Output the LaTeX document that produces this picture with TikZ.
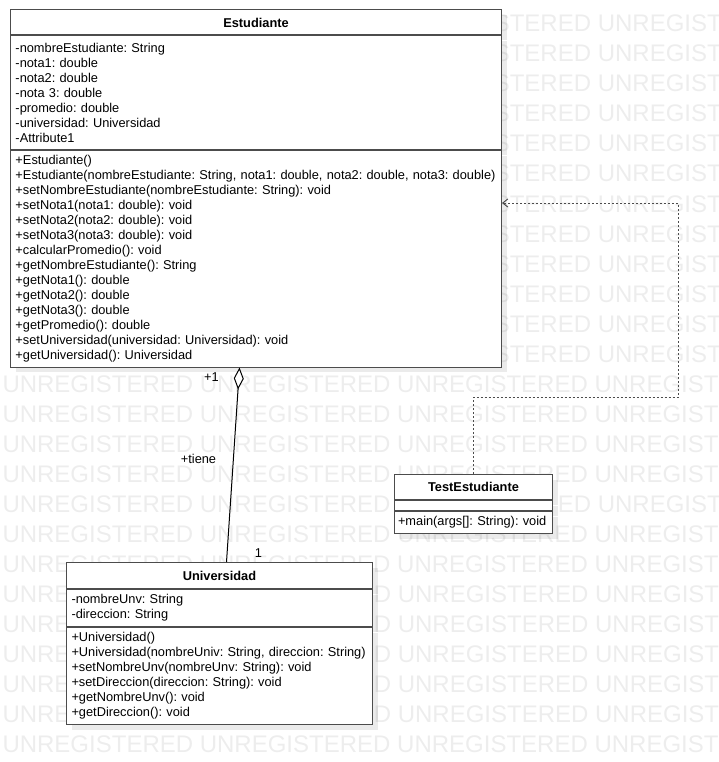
\documentclass[tikz,border=0pt]{standalone}
\usepackage{fontspec}
\setmainfont{Liberation Sans}
\usetikzlibrary{shapes, arrows.meta, positioning, shadows}
\frenchspacing

\begin{document}
\begin{tikzpicture}[x=1pt,y=-1pt,line width=1pt,
    font=\fontsize{12.8}{15}\selectfont,
    wmark/.style={text=black!7, font=\fontsize{24}{24}\selectfont, anchor=base west, inner sep=0pt},
    cls/.style={draw=black!70, fill=white, inner xsep=5pt, inner ysep=0pt,
        drop shadow={shadow xshift=5pt, shadow yshift=-5pt, fill=black, opacity=.08}},
    title/.style={cls, font=\fontsize{12.8}{15}\selectfont\bfseries, align=center},
    members/.style={cls, align=left},
    aggr/.style={draw=black, {Diamond[fill=white, length=22pt, width=10pt]}-},
    dep/.style={draw=black!70, dash pattern=on 2pt off 2pt, -{Straight Barb[length=5pt, width=8pt]}}]

\useasboundingbox (0,0) rectangle (719,762);

% watermark, only the parts that show
\foreach \r in {1,...,12}
    \node[wmark] (wma\r) at (493.3,30*\r+2) {STERED UNREGIST};
\foreach \r in {13,14,15,16,18,19,25}
    \node[wmark] (wmb\r) at (2,30*\r+2) {UNREGISTERED UNREGISTERED UNREGISTERED UNREGIST};
\node[wmark] (wmc1) at (2,512) {UNREGISTERED UNREGISTERED};
\node[wmark] (wmc2) at (557.3,512) {ED UNREGIST};
\foreach \r in {20,...,24}{
    \node[wmark] (wmd\r) at (2,30*\r+2) {UNRE};
    \node[wmark] (wme\r) at (373.3,30*\r+2) {D UNREGISTERED UNREGIST};
}

\node[title,
    anchor=north west,
    text width=481pt,
    minimum height=25pt] (est) at (10,9.5) {Estudiante};

\node[members,
    below=0pt of est,
    text width=481pt,
    minimum height=114pt] (estattr) {-nombreEstudiante: String\\-nota1: double\\-nota2: double\\-nota 3: double\\-promedio: double\\-universidad: Universidad\\-Attribute1};

\node[members,
    below=0pt of estattr,
    text width=481pt,
    minimum height=216pt] (estops) {+Estudiante()\\+Estudiante(nombreEstudiante: String, nota1: double, nota2: double, nota3: double)\\+setNombreEstudiante(nombreEstudiante: String): void\\+setNota1(nota1: double): void\\+setNota2(nota2: double): void\\+setNota3(nota3: double): void\\+calcularPromedio(): void\\+getNombreEstudiante(): String\\+getNota1(): double\\+getNota2(): double\\+getNota3(): double\\+getPromedio(): double\\+setUniversidad(universidad: Universidad): void\\+getUniversidad(): Universidad};

\node[title,
    anchor=north west,
    text width=148pt,
    minimum height=25pt] (test) at (394,474) {TestEstudiante};

\node[members,
    below=0pt of test,
    text width=148pt,
    minimum height=10pt] (testattr) {};

\node[members,
    below=0pt of testattr,
    inner xsep=3.5pt,
    text width=151pt,
    minimum height=22pt] (testops) {+main(args[]: String): void};

\node[title,
    anchor=north west,
    text width=296pt,
    minimum height=26pt] (univ) at (66,562) {Universidad};

\node[members,
    below=0pt of univ,
    text width=296pt,
    minimum height=37pt] (univattr) {-nombreUnv: String\\-direccion: String};

\node[members,
    below=0pt of univattr,
    text width=296pt,
    minimum height=97pt] (univops) {+Universidad()\\+Universidad(nombreUniv: String, direccion: String)\\+setNombreUnv(nombreUnv: String): void\\+setDireccion(direccion: String): void\\+getNombreUnv(): void\\+getDireccion(): void};

% Arrows
\draw[aggr] ([xshift=-16.5pt]estops.south) -- ([xshift=7pt]univ.north);
\node (multest) at (211.5,377) {+1};
\node (rol) at (198.5,459) {+tiene};
\node (multuniv) at (258.5,553) {1};

\coordinate (depa) at (678,397);
\coordinate (depb) at (678,203);
\draw[dep] (test.north) |- (depa) -- (depb) -- (estops.east |- depb);
\end{tikzpicture}
\end{document}
